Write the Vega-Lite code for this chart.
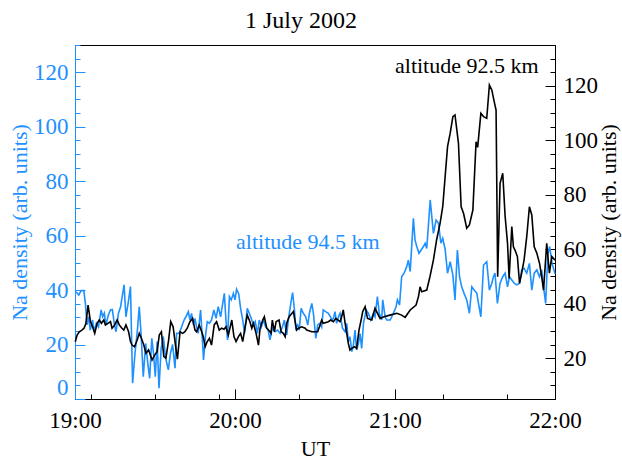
{
  "$schema": "https://vega.github.io/schema/vega-lite/v6.json",
  "width": 480,
  "height": 354,
  "autosize": {"type": "none"},
  "padding": {"left": 75, "top": 45, "right": 67, "bottom": 63},
  "background": "white",
  "title": {"text": "1 July 2002", "font": "Liberation Serif", "fontSize": 24, "fontWeight": "normal", "color": "black", "anchor": "middle", "offset": 12, "dx": -14},
  "config": {
    "view": {"stroke": "black", "strokeWidth": 1},
    "axis": {"labelFont": "Liberation Serif", "titleFont": "Liberation Serif", "labelFontSize": 23, "titleFontSize": 22, "titleFontWeight": "normal", "grid": false, "domainWidth": 1, "tickWidth": 1, "labelOverlap": false}
  },
  "datasets": {
    "na945": [
      {"minute":0.4,"density":39.4},{"minute":1.4,"density":38.2},{"minute":2.3,"density":39.8},{"minute":3.3,"density":39.8},{"minute":3.9,"density":35.1},{"minute":4.5,"density":27.2},{"minute":5.1,"density":30.2},{"minute":5.7,"density":25.3},{"minute":6.6,"density":29},{"minute":7.1,"density":24.7},{"minute":8.0,"density":27.8},{"minute":8.8,"density":26.5},{"minute":9.8,"density":32.7},{"minute":10.4,"density":30.2},{"minute":11.0,"density":31.5},{"minute":11.6,"density":27.2},{"minute":12.5,"density":30.8},{"minute":13.3,"density":32.7},{"minute":14.0,"density":32.9},{"minute":14.8,"density":27.2},{"minute":15.4,"density":24.7},{"minute":16.3,"density":31.5},{"minute":17.1,"density":33.9},{"minute":17.8,"density":38.2},{"minute":18.4,"density":41.9},{"minute":19.1,"density":30.2},{"minute":20.0,"density":35.7},{"minute":20.8,"density":41.3},{"minute":21.6,"density":5.8},{"minute":22.5,"density":16.8},{"minute":23.4,"density":25.3},{"minute":24.1,"density":33.9},{"minute":24.8,"density":23.5},{"minute":25.6,"density":8.2},{"minute":26.5,"density":20.4},{"minute":27.3,"density":13.1},{"minute":28.0,"density":7.6},{"minute":28.8,"density":22.3},{"minute":29.5,"density":16.2},{"minute":30.1,"density":8.2},{"minute":30.8,"density":21.1},{"minute":31.5,"density":4},{"minute":32.3,"density":18.6},{"minute":33.1,"density":22.9},{"minute":34.0,"density":15},{"minute":35.0,"density":10.7},{"minute":35.8,"density":16.8},{"minute":36.6,"density":20},{"minute":37.5,"density":11.3},{"minute":38.1,"density":24.1},{"minute":39.1,"density":24.1},{"minute":40,"density":26.5},{"minute":40.9,"density":29},{"minute":41.6,"density":30.2},{"minute":42.5,"density":32.1},{"minute":43.1,"density":29},{"minute":43.7,"density":31.4},{"minute":44.4,"density":27.2},{"minute":45,"density":29.6},{"minute":45.6,"density":26.5},{"minute":46.2,"density":24.1},{"minute":47.1,"density":32.7},{"minute":47.7,"density":22.9},{"minute":48.2,"density":14.3},{"minute":48.9,"density":22.9},{"minute":49.6,"density":28.4},{"minute":50.4,"density":27.8},{"minute":51.2,"density":29},{"minute":52.1,"density":32.7},{"minute":52.9,"density":29.6},{"minute":53.7,"density":33.9},{"minute":54.6,"density":30.2},{"minute":55.4,"density":35.1},{"minute":56,"density":38.8},{"minute":56.6,"density":29},{"minute":57.2,"density":21.7},{"minute":57.9,"density":37.6},{"minute":58.6,"density":36.4},{"minute":59.4,"density":38.8},{"minute":60,"density":36.4},{"minute":60.6,"density":40.3},{"minute":61.4,"density":38.6},{"minute":62.1,"density":33.3},{"minute":62.9,"density":29},{"minute":63.6,"density":24.1},{"minute":64.6,"density":33.3},{"minute":65.4,"density":31.4},{"minute":66.1,"density":29.6},{"minute":66.9,"density":27.2},{"minute":67.6,"density":28.4},{"minute":68.4,"density":24.1},{"minute":69.1,"density":29},{"minute":69.9,"density":26.5},{"minute":70.6,"density":29},{"minute":71.5,"density":26.5},{"minute":72.4,"density":25.5},{"minute":73.1,"density":21.7},{"minute":74,"density":26},{"minute":75,"density":24.7},{"minute":76,"density":25.3},{"minute":76.9,"density":24.1},{"minute":77.8,"density":26.5},{"minute":78.5,"density":29},{"minute":79.4,"density":23.5},{"minute":80,"density":29},{"minute":81,"density":35.7},{"minute":81.6,"density":39.1},{"minute":82.3,"density":32.7},{"minute":82.8,"density":26},{"minute":83.5,"density":27.2},{"minute":84.1,"density":25.3},{"minute":84.8,"density":33.3},{"minute":85.6,"density":31.5},{"minute":86.5,"density":30.2},{"minute":87.3,"density":27.2},{"minute":87.9,"density":31.5},{"minute":88.8,"density":35.1},{"minute":89.4,"density":31.5},{"minute":90.3,"density":22.3},{"minute":91,"density":27.2},{"minute":91.9,"density":27.8},{"minute":92.5,"density":26.5},{"minute":93.1,"density":32.7},{"minute":94,"density":32.1},{"minute":95,"density":31.5},{"minute":95.8,"density":30.2},{"minute":96.3,"density":29},{"minute":96.9,"density":29.6},{"minute":97.5,"density":32.1},{"minute":98.1,"density":27.8},{"minute":98.8,"density":30.2},{"minute":99.4,"density":31.5},{"minute":100.3,"density":26},{"minute":101.3,"density":24.7},{"minute":101.9,"density":27.8},{"minute":102.5,"density":21.1},{"minute":103.1,"density":22.9},{"minute":103.8,"density":17.4},{"minute":104.4,"density":19.8},{"minute":105,"density":25.3},{"minute":105.6,"density":18},{"minute":106.3,"density":20.4},{"minute":106.9,"density":24},{"minute":107.5,"density":18.6},{"minute":108.2,"density":28},{"minute":109.2,"density":32.7},{"minute":110,"density":31.5},{"minute":110.9,"density":29},{"minute":111.9,"density":31.5},{"minute":112.5,"density":30.2},{"minute":113.4,"density":37.6},{"minute":114.1,"density":31.5},{"minute":115,"density":29},{"minute":115.4,"density":36.4},{"minute":116.3,"density":30.2},{"minute":116.9,"density":29},{"minute":118.2,"density":29},{"minute":119.4,"density":31.5},{"minute":120.4,"density":33.9},{"minute":120.9,"density":36.4},{"minute":121.7,"density":34.5},{"minute":122.5,"density":44.9},{"minute":123.4,"density":46.2},{"minute":124.4,"density":48.6},{"minute":125,"density":51},{"minute":125.7,"density":46.8},{"minute":126.9,"density":66.4},{"minute":127.5,"density":58.4},{"minute":128.2,"density":55.9},{"minute":129,"density":53.5},{"minute":129.8,"density":54.7},{"minute":130.6,"density":55.9},{"minute":131.3,"density":57.2},{"minute":131.9,"density":55.3},{"minute":132.5,"density":63.3},{"minute":133.2,"density":73.1},{"minute":133.8,"density":67},{"minute":134.4,"density":60.8},{"minute":135.4,"density":65.7},{"minute":136.3,"density":64.5},{"minute":137.2,"density":57.2},{"minute":137.9,"density":59},{"minute":138.8,"density":55},{"minute":139.7,"density":46.2},{"minute":140.7,"density":50.4},{"minute":141.7,"density":45.5},{"minute":142.5,"density":36.4},{"minute":143.4,"density":54.7},{"minute":144.2,"density":44.9},{"minute":145,"density":41.2},{"minute":145.9,"density":38.8},{"minute":146.9,"density":36.4},{"minute":147.9,"density":31.5},{"minute":148.8,"density":41.2},{"minute":149.7,"density":40},{"minute":150.7,"density":38.8},{"minute":151.3,"density":35.1},{"minute":152.2,"density":30.2},{"minute":153.2,"density":49.2},{"minute":154.4,"density":50.4},{"minute":155.4,"density":40},{"minute":156.3,"density":42.5},{"minute":156.9,"density":44.9},{"minute":157.5,"density":46.2},{"minute":158.4,"density":35.1},{"minute":159.4,"density":42.5},{"minute":160.4,"density":44.9},{"minute":161.3,"density":46.2},{"minute":162.2,"density":41.2},{"minute":162.9,"density":44.9},{"minute":163.8,"density":43.7},{"minute":164.7,"density":42.5},{"minute":165.7,"density":41.9},{"minute":166.7,"density":42.5},{"minute":167.5,"density":47.4},{"minute":168.4,"density":48},{"minute":169.4,"density":46.2},{"minute":170.4,"density":49.8},{"minute":171.3,"density":40},{"minute":172.2,"density":46.2},{"minute":173.2,"density":47.4},{"minute":174.2,"density":44.9},{"minute":175,"density":47.4},{"minute":175.7,"density":41.2},{"minute":176.5,"density":35.1},{"minute":177.3,"density":53},{"minute":178,"density":56},{"minute":178.9,"density":49.8},{"minute":180,"density":46}
    ],
    "na925": [
      {"minute":0.1,"density":26},{"minute":0.8,"density":28.5},{"minute":1.6,"density":29.7},{"minute":2.6,"density":30.3},{"minute":3.4,"density":31},{"minute":4.1,"density":32.8},{"minute":4.9,"density":39.5},{"minute":5.8,"density":33.4},{"minute":6.6,"density":31.5},{"minute":7.4,"density":29.1},{"minute":8.3,"density":32.8},{"minute":9.1,"density":34},{"minute":9.9,"density":32.8},{"minute":10.8,"density":34},{"minute":11.4,"density":32.2},{"minute":12.4,"density":32.8},{"minute":13.3,"density":33.4},{"minute":13.9,"density":31},{"minute":14.9,"density":32.2},{"minute":15.8,"density":34},{"minute":16.6,"density":32.2},{"minute":17.6,"density":31},{"minute":18.3,"density":30.3},{"minute":19.1,"density":32.2},{"minute":20.1,"density":29.7},{"minute":20.8,"density":26.1},{"minute":21.4,"density":24.8},{"minute":22.3,"density":24.2},{"minute":23.3,"density":26.6},{"minute":24.1,"density":29.1},{"minute":24.9,"density":27.3},{"minute":25.8,"density":24.8},{"minute":26.6,"density":21.8},{"minute":27.6,"density":23},{"minute":28.9,"density":19.3},{"minute":29.9,"density":21.2},{"minute":30.8,"density":22.4},{"minute":31.6,"density":28.5},{"minute":32.4,"density":29.7},{"minute":33.3,"density":20.6},{"minute":34.1,"density":20},{"minute":35.1,"density":26.6},{"minute":35.9,"density":33.4},{"minute":36.8,"density":31.5},{"minute":37.6,"density":25.4},{"minute":38.4,"density":19.6},{"minute":39.4,"density":29.7},{"minute":40.4,"density":29.1},{"minute":41.2,"density":29.7},{"minute":42.1,"density":31},{"minute":43.1,"density":33.4},{"minute":44.1,"density":34.6},{"minute":45,"density":30.3},{"minute":45.6,"density":29.7},{"minute":46.6,"density":32.2},{"minute":47.5,"density":29.7},{"minute":48.1,"density":27.9},{"minute":48.8,"density":24.2},{"minute":49.6,"density":26.1},{"minute":50.4,"density":27.3},{"minute":51.2,"density":24.8},{"minute":52.2,"density":32.2},{"minute":53.1,"density":33.4},{"minute":54.1,"density":30.3},{"minute":55,"density":31},{"minute":55.9,"density":30.6},{"minute":56.6,"density":31.5},{"minute":57.5,"density":28.5},{"minute":58.8,"density":34},{"minute":59.6,"density":27.9},{"minute":60.4,"density":26.1},{"minute":61.3,"density":27.9},{"minute":62.1,"density":29.1},{"minute":62.9,"density":26.1},{"minute":63.8,"density":31.5},{"minute":64.6,"density":35.8},{"minute":65.6,"density":33.4},{"minute":66.3,"density":31},{"minute":66.9,"density":32.8},{"minute":67.9,"density":29.1},{"minute":68.8,"density":24.8},{"minute":69.4,"density":31},{"minute":70.4,"density":34},{"minute":71,"density":35.2},{"minute":71.9,"density":31},{"minute":72.9,"density":30},{"minute":73.5,"density":29.1},{"minute":74,"density":34},{"minute":74.8,"density":29.7},{"minute":75.4,"density":33.4},{"minute":76.5,"density":34},{"minute":77.3,"density":29.7},{"minute":78.1,"density":29.1},{"minute":78.8,"density":27.9},{"minute":79.4,"density":32.8},{"minute":80.3,"density":35.2},{"minute":81.9,"density":37.1},{"minute":83.1,"density":30.3},{"minute":83.8,"density":31},{"minute":85,"density":31.5},{"minute":86.3,"density":31},{"minute":86.9,"density":30.3},{"minute":88.8,"density":29.7},{"minute":91,"density":29.7},{"minute":91.9,"density":32.2},{"minute":92.5,"density":34},{"minute":93.1,"density":32.8},{"minute":95,"density":33.4},{"minute":95.9,"density":34},{"minute":96.9,"density":33.4},{"minute":97.8,"density":34.6},{"minute":99.4,"density":33.4},{"minute":100,"density":35.2},{"minute":100.6,"density":37.7},{"minute":101.3,"density":32.8},{"minute":101.9,"density":29.1},{"minute":102.5,"density":25.4},{"minute":103.1,"density":23},{"minute":103.8,"density":23.6},{"minute":104.8,"density":24.2},{"minute":105.6,"density":23.6},{"minute":106.5,"density":30.3},{"minute":107.3,"density":34},{"minute":107.9,"density":37.1},{"minute":108.8,"density":38.9},{"minute":109.7,"density":34.6},{"minute":111.3,"density":34},{"minute":112.5,"density":38.3},{"minute":114.4,"density":34.6},{"minute":115.9,"density":35.2},{"minute":118.1,"density":35.8},{"minute":120.7,"density":36.5},{"minute":122.5,"density":35.8},{"minute":123.8,"density":35},{"minute":125.7,"density":37.7},{"minute":127.9,"density":39.5},{"minute":128.8,"density":42.6},{"minute":129.4,"density":46.2},{"minute":130,"density":44.4},{"minute":131.9,"density":45},{"minute":133.1,"density":49.9},{"minute":134.4,"density":56},{"minute":135.6,"density":63.4},{"minute":136.9,"density":69.5},{"minute":137.9,"density":75.6},{"minute":138.8,"density":86.6},{"minute":139.7,"density":97.7},{"minute":140.7,"density":102.6},{"minute":141.7,"density":108.7},{"minute":142.5,"density":109.3},{"minute":143.8,"density":98.9},{"minute":144.8,"density":75.6},{"minute":145.7,"density":73.2},{"minute":146.9,"density":67.7},{"minute":147.9,"density":68.9},{"minute":149.2,"density":74.4},{"minute":150.4,"density":99.5},{"minute":151,"density":97.4},{"minute":152.2,"density":109.9},{"minute":153.2,"density":108.7},{"minute":154.4,"density":108.1},{"minute":155.4,"density":120.3},{"minute":156.3,"density":118.5},{"minute":157.2,"density":114.2},{"minute":157.9,"density":111.1},{"minute":158.5,"density":49.9},{"minute":159.4,"density":84.2},{"minute":160.4,"density":87.9},{"minute":161.3,"density":72},{"minute":162.2,"density":62.2},{"minute":162.8,"density":49.3},{"minute":163.8,"density":68.3},{"minute":164.4,"density":60.9},{"minute":165,"density":59.7},{"minute":165.9,"density":57.3},{"minute":166.7,"density":47.5},{"minute":167.5,"density":51.2},{"minute":168.4,"density":56},{"minute":169.4,"density":64.6},{"minute":170.4,"density":75.6},{"minute":171.3,"density":72.6},{"minute":172.2,"density":60.9},{"minute":173.2,"density":58.5},{"minute":174.2,"density":54.8},{"minute":175,"density":49.9},{"minute":175.7,"density":45},{"minute":176.9,"density":62.2},{"minute":177.9,"density":51.2},{"minute":178.8,"density":57.3},{"minute":180,"density":56}
    ]
  },
  "layer": [
    {
      "layer": [
        {
          "data": {"name": "na945"},
          "mark": {"type": "line", "color": "#1E90FF", "strokeWidth": 1.6},
          "encoding": {
            "x": {
              "field": "minute", "type": "quantitative",
              "scale": {"domain": [0, 180], "nice": false, "zero": false},
              "axis": {
                "title": "UT", "orient": "bottom",
                "values": [0, 60, 120, 180],
                "labelExpr": "(19 + datum.value / 60) + ':00'",
                "tickSize": -10, "labelPadding": 20, "labelFlush": false,
                "domainColor": "black", "tickColor": "black", "labelColor": "black", "titleColor": "black",
                "titlePadding": 6
              }
            },
            "y": {
              "field": "density", "type": "quantitative",
              "scale": {"domain": [0, 130], "nice": false, "zero": false},
              "axis": {
                "title": "Na density (arb. units)", "orient": "left",
                "values": [0, 20, 40, 60, 80, 100, 120],
                "tickSize": -10, "labelPadding": 17, "labelFlush": true,
                "domainColor": "#1E90FF", "tickColor": "#1E90FF", "labelColor": "#1E90FF", "titleColor": "#1E90FF",
                "titlePadding": 2
              }
            }
          }
        },
        {
          "data": {"values": [{"minute": 60.4, "density": 55.1, "label": "altitude 94.5 km"}]},
          "mark": {"type": "text", "align": "left", "baseline": "alphabetic", "font": "Liberation Serif", "fontSize": 22, "color": "#1E90FF"},
          "encoding": {
            "x": {"field": "minute", "type": "quantitative"},
            "y": {
              "field": "density", "type": "quantitative",
              "axis": {
                "orient": "left", "title": null, "labels": false, "domain": false,
                "values": [5,10,15,25,30,35,45,50,55,65,70,75,85,90,95,105,110,115,125,130],
                "tickSize": -5, "tickColor": "#1E90FF"
              }
            },
            "text": {"field": "label"}
          }
        }
      ],
      "resolve": {"axis": {"y": "independent"}}
    },
    {
      "layer": [
        {
          "data": {"name": "na925"},
          "mark": {"type": "line", "color": "black", "strokeWidth": 1.6},
          "encoding": {
            "x": {
              "field": "minute", "type": "quantitative",
              "axis": {
                "orient": "bottom", "title": null, "labels": false, "domain": false,
                "values": [6,12,18,24,30,36,42,48,54,66,72,78,84,90,96,102,108,114,126,132,138,144,150,156,162,168,174],
                "tickSize": -5, "tickColor": "black"
              }
            },
            "y": {
              "field": "density", "type": "quantitative",
              "scale": {"domain": [5, 135], "nice": false, "zero": false},
              "axis": {
                "title": "Na density (arb. units)", "orient": "right",
                "values": [20, 40, 60, 80, 100, 120],
                "tickSize": -10, "labelPadding": 18,
                "domainColor": "black", "tickColor": "black", "labelColor": "black", "titleColor": "black",
                "titleAngle": 270, "titlePadding": 23
              }
            }
          }
        },
        {
          "data": {"values": [{"minute": 120, "density": 124.7, "label": "altitude 92.5 km"}]},
          "mark": {"type": "text", "align": "left", "baseline": "alphabetic", "font": "Liberation Serif", "fontSize": 22, "color": "black"},
          "encoding": {
            "x": {"field": "minute", "type": "quantitative"},
            "y": {
              "field": "density", "type": "quantitative",
              "axis": {
                "orient": "right", "title": null, "labels": false, "domain": false,
                "values": [10,15,25,30,35,45,50,55,65,70,75,85,90,95,105,110,115,125,130,135],
                "tickSize": -5, "tickColor": "black"
              }
            },
            "text": {"field": "label"}
          }
        }
      ],
      "resolve": {"axis": {"y": "independent"}}
    }
  ],
  "resolve": {"scale": {"y": "independent"}, "axis": {"x": "independent"}}
}
